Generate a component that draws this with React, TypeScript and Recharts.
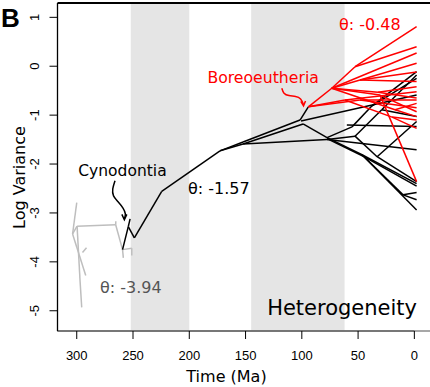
import React from 'react';
import { ComposedChart, Line, XAxis, YAxis, ReferenceArea, ReferenceLine } from 'recharts';

// Axis extents: time in Ma (reversed, past on the left), log variance on y
const T_MIN = -13.9;
const T_MAX = 317.1;
const V_MIN = -5.414;
const V_MAX = 1.293;

const timeTicks = [300, 250, 200, 150, 100, 50, 0];
const varTicks = [1, 0, -1, -2, -3, -4, -5];

// Shaded geological periods [start Ma, end Ma]
const periodBands: [number, number][] = [
  [252, 200],
  [145, 62],
];

// Tree edges: [parent time, parent value, child time, child value]
type Edge = [number, number, number, number];

// Early lineages (low-variance regime)
const grayEdges: Edge[] = [
  [303.7, -3.43, 300.0, -2.79],
  [303.7, -3.43, 299.7, -3.27],
  [303.7, -3.43, 292.0, -4.28],
  [299.7, -3.27, 297.1, -4.37],
  [297.1, -4.37, 295.6, -4.93],
  [294.9, -3.81, 291.3, -3.71],
  [299.7, -3.27, 265.4, -3.24],
  [265.4, -3.24, 265.3, -3.17],
  [265.4, -3.24, 259.3, -3.75],
  [259.3, -3.75, 258.6, -3.92],
  [259.3, -3.75, 251.1, -3.72],
  [251.1, -3.72, 251.1, -3.87],
];

// Cynodont-to-mammal lineages (intermediate regime)
const blackEdges: Edge[] = [
  [259.3, -3.75, 254.2, -3.28],
  [254.2, -3.28, 252.6, -3.12],
  [254.2, -3.28, 248.8, -3.51],
  [248.8, -3.51, 224.5, -2.56],
  [224.5, -2.56, 172.7, -1.73],
  [172.7, -1.73, 152.2, -1.55],
  [172.7, -1.73, 152.2, -1.59],
  [152.2, -1.55, 101.6, -1.10],
  [152.2, -1.59, 98.9, -1.18],
  [152.2, -1.59, 77.6, -1.50],
  [101.6, -1.10, 94.2, -0.83],
  [100.7, -1.12, -2, -0.59],
  [98.9, -1.18, 77.6, -1.46],
  [77.6, -1.46, 46.5, -1.81],
  [77.6, -1.48, 44.0, -1.86],
  [44.0, -1.86, -2, -2.45],
  [77.6, -1.50, -2, -1.71],
  [77.6, -1.46, 55.4, -1.24],
  [55.4, -1.24, 37.6, -0.81],
  [37.6, -0.81, -2, -0.11],
  [37.6, -0.81, -2, -0.25],
  [77.6, -1.50, 52.7, -1.43],
  [52.7, -1.43, 29.0, -0.89],
  [29.0, -0.89, -2, -0.18],
  [29.0, -0.89, -2, -1.03],
  [52.7, -1.43, 33.1, -1.85],
  [33.1, -1.85, -2, -1.13],
  [33.1, -1.85, -2, -2.36],
  [46.5, -1.81, -2, -2.40],
  [46.5, -1.81, 10.0, -2.63],
  [10.0, -2.63, -2, -2.58],
  [10.0, -2.63, -2, -2.73],
  [46.5, -1.81, -2, -2.94],
  [60.0, -1.20, -2, -1.23],
];

// Boreoeutheria (high-variance regime)
const redEdges: Edge[] = [
  [94.2, -0.83, 73.4, -0.45],
  [73.4, -0.45, 52.7, -0.01],
  [52.7, -0.01, -2, 0.81],
  [52.7, -0.01, -2, 0.40],
  [73.4, -0.45, -2, 0.27],
  [73.4, -0.45, 48.3, -0.28],
  [48.3, -0.28, -2, 0.06],
  [48.3, -0.28, -2, -0.31],
  [48.3, -0.28, -2, -0.12],
  [73.4, -0.45, 32.3, -0.53],
  [32.3, -0.53, -2, -0.42],
  [32.3, -0.53, -2, -0.65],
  [73.4, -0.45, 30.5, -0.59],
  [30.5, -0.59, -2, -2.36],
  [30.5, -0.59, -2, -0.93],
  [73.4, -0.45, 17.2, -0.89],
  [17.2, -0.89, -2, -1.03],
  [17.2, -0.89, -2, -0.76],
  [94.2, -0.83, 61.6, -0.69],
  [61.6, -0.69, -2, -0.52],
  [61.6, -0.69, 19.8, -1.04],
  [19.8, -1.04, -2, -1.27],
  [19.8, -1.04, -2, -1.10],
  [94.2, -0.83, 48.3, -0.69],
  [48.3, -0.69, -2, -0.69],
  [48.3, -0.69, -2, -0.85],
];

// Curved pointer to the Cynodontia node and its head
const cynodontiaArrow: [number, number][] = [
  [266.0, -2.34], [268.0, -2.51], [267.3, -2.65], [263.3, -2.77],
  [258.9, -2.90], [256.8, -3.02], [257.7, -3.12],
];
const cynodontiaHead: [number, number][] = [
  [259.9, -3.03], [257.7, -3.14], [255.5, -3.03],
];

// Curved pointer to the Boreoeutheria node and its head
const boreoArrow: [number, number][] = [
  [117.8, -0.45], [115.8, -0.55], [111.4, -0.60], [105.6, -0.62],
  [101.1, -0.67], [98.6, -0.78],
];
const boreoHead: [number, number][] = [
  [100.9, -0.72], [98.5, -0.81], [96.7, -0.71],
];

const edgePoints = (e: Edge) => [
  { t: e[0], v: e[1] },
  { t: e[2], v: e[3] },
];
const pathPoints = (p: [number, number][]) => p.map(([t, v]) => ({ t, v }));

const XTick = (props: any) => (
  <text
    x={props.x}
    y={props.y + 21}
    textAnchor="middle"
    fontFamily="Liberation Sans"
    fontSize={13}
    fill="#000"
  >
    {props.payload.value}
  </text>
);

const YTick = (props: any) => (
  <text
    transform={`translate(${props.x - 10.5},${props.y}) rotate(-90)`}
    textAnchor="middle"
    fontFamily="Liberation Sans"
    fontSize={13}
    fill="#000"
  >
    {props.payload.value}
  </text>
);

const renderEdges = (edges: Edge[], color: string, prefix: string) =>
  edges.map((e, i) => (
    <Line
      key={`${prefix}${i}`}
      data={edgePoints(e)}
      dataKey="v"
      type="linear"
      stroke={color}
      strokeWidth={1.5}
      dot={false}
      activeDot={false}
      isAnimationActive={false}
    />
  ));

export default function App() {
  return (
    <div style={{ position: 'absolute', left: 0, top: 0, width: 430, height: 387 }}>
      <ComposedChart width={430} height={387} margin={{ top: 3, right: 0, bottom: 0, left: 0 }}>
        <XAxis
          dataKey="t"
          type="number"
          domain={[T_MIN, T_MAX]}
          reversed
          allowDataOverflow
          ticks={timeTicks}
          interval={0}
          height={56}
          tickSize={8}
          tickMargin={0}
          axisLine={{ stroke: '#8a8a8a', strokeWidth: 1.3 }}
          tickLine={{ stroke: '#000' }}
          tick={(p: any) => <XTick {...p} />}
        />
        <YAxis
          dataKey="v"
          type="number"
          domain={[V_MIN, V_MAX]}
          allowDataOverflow
          ticks={varTicks}
          interval={0}
          width={57.5}
          tickSize={8}
          tickMargin={0}
          axisLine={{ stroke: '#000', strokeWidth: 1.3 }}
          tickLine={{ stroke: '#000' }}
          tick={(p: any) => <YTick {...p} />}
        />
        {periodBands.map(([a, b], i) => (
          <ReferenceArea
            key={`band${i}`}
            x1={a}
            x2={b}
            fill="#e5e5e5"
            fillOpacity={1}
            stroke="none"
          />
        ))}
        <ReferenceLine
          segment={[{ x: T_MAX, y: V_MIN }, { x: 0, y: V_MIN }]}
          stroke="#000"
          strokeWidth={1.3}
          ifOverflow="visible"
        />
        <ReferenceLine y={V_MAX} stroke="#000" strokeWidth={2} ifOverflow="visible" />
        {renderEdges(grayEdges, '#bebebe', 'g')}
        {renderEdges(blackEdges, '#000000', 'k')}
        {renderEdges(redEdges, '#ff0000', 'r')}
        <Line data={pathPoints(cynodontiaArrow)} dataKey="v" type="natural" stroke="#000" strokeWidth={1.5} dot={false} activeDot={false} isAnimationActive={false} />
        <Line data={pathPoints(cynodontiaHead)} dataKey="v" type="linear" stroke="#000" strokeWidth={1.5} dot={false} activeDot={false} isAnimationActive={false} />
        <Line data={pathPoints(boreoArrow)} dataKey="v" type="natural" stroke="#ff0000" strokeWidth={1.5} dot={false} activeDot={false} isAnimationActive={false} />
        <Line data={pathPoints(boreoHead)} dataKey="v" type="linear" stroke="#ff0000" strokeWidth={1.5} dot={false} activeDot={false} isAnimationActive={false} />
      </ComposedChart>
      <svg
        width={430}
        height={387}
        style={{ position: 'absolute', left: 0, top: 0, pointerEvents: 'none' }}
      >
        <text x={1} y={26.7} fontFamily="Liberation Sans" fontWeight="bold" fontSize={26} fill="#000">B</text>
        <text x={78.3} y={175.5} fontFamily="DejaVu Sans" fontSize={15.5} fill="#000">Cynodontia</text>
        <text x={188} y={194} fontFamily="DejaVu Sans" fontSize={16} fill="#000">θ: -1.57</text>
        <text x={100} y={293} fontFamily="DejaVu Sans" fontSize={16} fill="#555555">θ: -3.94</text>
        <text x={339} y={29.5} fontFamily="DejaVu Sans" fontSize={16} fill="#ff0000">θ: -0.48</text>
        <text x={207.4} y={83} fontFamily="DejaVu Sans" fontSize={15.7} fill="#ff0000">Boreoeutheria</text>
        <text x={417} y={315} textAnchor="end" fontFamily="DejaVu Sans" fontSize={21} fill="#000">Heterogeneity</text>
        <text x={226.5} y={382} textAnchor="middle" fontFamily="DejaVu Sans" fontSize={16} fill="#000">Time (Ma)</text>
        <text transform="translate(25,177.5) rotate(-90)" textAnchor="middle" fontFamily="DejaVu Sans" fontSize={16} fill="#000">Log Variance</text>
      </svg>
    </div>
  );
}
